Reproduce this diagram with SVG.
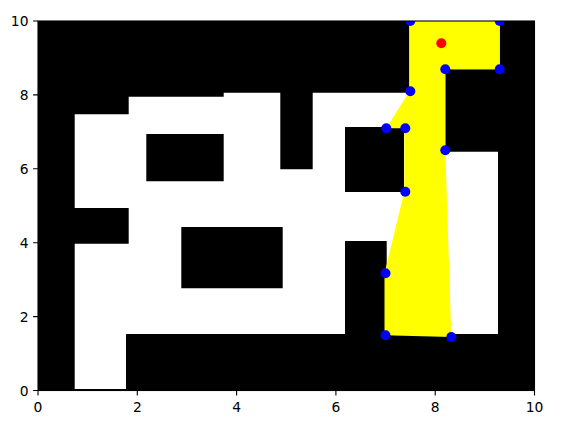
<svg xmlns="http://www.w3.org/2000/svg" width="566" height="429" viewBox="0 0 566 429">
<style>
.t{font-family:"DejaVu Sans",sans-serif;font-size:13.89px;fill:#000}
.x{text-anchor:middle}
.y{text-anchor:end}
.k{stroke:#000;stroke-width:1.1;fill:none}
.b{fill:#00f}
</style>
<defs><clipPath id="ax"><rect x="38" y="21" width="496.500" height="369.500"/></clipPath></defs>
<rect width="566" height="429" fill="#fff"/>
<g clip-path="url(#ax)">
<path fill="#000" d="M38 21H534.500V390.500H38Z"/>
<path fill="#fff" fill-rule="evenodd" d="M74.700 114.300H128.700V96.700H223.700V92.700H280.300V169.300H312.700V92.700H409.300V21H499.700V69.300H445.300V151.700H498V334H345V241H386.700V334H345H126V389H74.700V243.700H128.700V208H74.700Z M146.300 134H223.700V181.300H146.300Z M181.300 227H282.700V288.300H181.300Z M345 127H404V192H345Z"/>
<path fill="#ff0" d="M409.500 21H499.700V69.300H445.300V150.300L451.300 337L384.500 335.300V273.300L404.300 191.700V128.300H386.300L409.500 91.300Z"/>
<g class="b">
<circle cx="410.300" cy="21" r="5"/><circle cx="499.700" cy="21" r="5"/>
<circle cx="499.700" cy="69.300" r="5"/><circle cx="445.300" cy="69.300" r="5"/>
<circle cx="445.300" cy="150.300" r="5"/><circle cx="451.300" cy="337" r="5"/>
<circle cx="385.500" cy="335.300" r="5"/><circle cx="385.500" cy="273.300" r="5"/>
<circle cx="405.300" cy="191.700" r="5"/><circle cx="405.300" cy="128.300" r="5"/>
<circle cx="386.300" cy="128.300" r="5"/><circle cx="410.300" cy="91.300" r="5"/>
</g>
<circle cx="441.300" cy="43.300" r="5" fill="#f00"/>
</g>
<rect class="k" x="38" y="21" width="496.500" height="369.500"/>
<path class="k" d="M38 390.500v4.900M137.300 390.500v4.900M236.600 390.500v4.900M335.900 390.500v4.900M435.200 390.500v4.900M534.500 390.500v4.900M38 390.500h-4.900M38 316.600h-4.900M38 242.700h-4.900M38 168.800h-4.900M38 94.900h-4.900M38 21h-4.900"/>
<g class="t x">
<text x="38" y="411.500">0</text><text x="137.300" y="411.500">2</text><text x="236.600" y="411.500">4</text><text x="335.900" y="411.500">6</text><text x="435.200" y="411.500">8</text><text x="534.500" y="411.500">10</text>
</g>
<g class="t y">
<text x="28.500" y="395.800">0</text><text x="28.500" y="321.900">2</text><text x="28.500" y="248">4</text><text x="28.500" y="174.100">6</text><text x="28.500" y="100.200">8</text><text x="28.500" y="26.300">10</text>
</g>
</svg>
